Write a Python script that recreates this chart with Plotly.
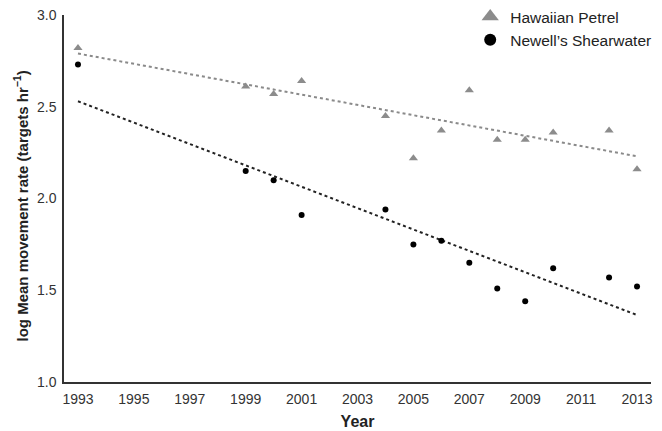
import plotly.graph_objects as go

years_hp = [1993, 1999, 2000, 2001, 2004, 2005, 2006, 2007, 2008, 2009, 2010, 2012, 2013]
hp_vals = [2.82, 2.61, 2.57, 2.64, 2.45, 2.22, 2.37, 2.59, 2.32, 2.32, 2.36, 2.37, 2.16]
years_ns = [1993, 1999, 2000, 2001, 2004, 2005, 2006, 2007, 2008, 2009, 2010, 2012, 2013]
ns_vals = [2.73, 2.15, 2.10, 1.91, 1.94, 1.75, 1.77, 1.65, 1.51, 1.44, 1.62, 1.57, 1.52]
trend_years = [1993, 2013]
hp_trend = [2.79, 2.23]
ns_trend = [2.53, 1.365]
x_ticks = [1993, 1995, 1997, 1999, 2001, 2003, 2005, 2007, 2009, 2011, 2013]
y_ticks = [1.0, 1.5, 2.0, 2.5, 3.0]
y_title = "<b>log Mean movement rate (targets hr<sup>−1</sup>)</b>"

FONT = "Arial, Liberation Sans, sans-serif"
fig = go.Figure()
fig.add_trace(go.Scatter(x=trend_years, y=hp_trend, mode="lines",
                         line=dict(color="#8a8a8a", width=2, dash="dot"),
                         showlegend=False, hoverinfo="skip"))
fig.add_trace(go.Scatter(x=trend_years, y=ns_trend, mode="lines",
                         line=dict(color="#222222", width=2, dash="dot"),
                         showlegend=False, hoverinfo="skip"))
fig.add_trace(go.Scatter(x=years_hp, y=hp_vals, mode="markers", name="Hawaiian Petrel",
                         marker=dict(symbol="triangle-up", size=8, color="#8c8c8c"),
                         showlegend=False))
fig.add_trace(go.Scatter(x=years_ns, y=ns_vals, mode="markers", name="Newell's Shearwater",
                         marker=dict(symbol="circle", size=6, color="#000000"),
                         showlegend=False))
# legend entries with larger symbols
fig.add_trace(go.Scatter(x=[None], y=[None], mode="markers", name="Hawaiian Petrel",
                         marker=dict(symbol="triangle-up", size=15, color="#8c8c8c")))
fig.add_trace(go.Scatter(x=[None], y=[None], mode="markers", name="Newell’s Shearwater",
                         marker=dict(symbol="circle", size=12, color="#000000")))

fig.add_annotation(text=y_title, textangle=-90, xref="paper", yref="paper",
                   x=0, y=0.5, xanchor="center", yanchor="middle", xshift=-43, yshift=-8,
                   showarrow=False, font=dict(size=15, color="#222222", family=FONT))

fig.update_layout(
    width=662, height=431,
    margin=dict(l=64, r=11, t=15, b=49, autoexpand=False),
    paper_bgcolor="white", plot_bgcolor="white",
    font=dict(family=FONT, size=14, color="#333333"),
    legend=dict(x=0.692, y=1.015, xref="paper", yref="container", xanchor="left", yanchor="top",
                font=dict(size=15.5, color="#222222"), tracegroupgap=0,
                itemwidth=30, bgcolor="rgba(0,0,0,0)"),
    xaxis=dict(range=[1992.5, 2013.5], tickvals=x_ticks, showgrid=False, zeroline=False,
               showline=True, linecolor="#333333", linewidth=1.5, ticks="",
               automargin=False, ticklabelstandoff=3,
               tickfont=dict(size=14, color="#333333"),
               title=dict(text="<b>Year</b>", font=dict(size=16, color="#222222"), standoff=10)),
    yaxis=dict(range=[1.0, 3.0], tickvals=y_ticks, tickformat=".1f", showgrid=False, zeroline=False,
               showline=True, linecolor="#333333", linewidth=1.5, ticks="",
               automargin=False, ticklabelstandoff=3,
               tickfont=dict(size=14, color="#333333")),
)
fig.write_html("out.html", config={"displayModeBar": False},
               post_script="document.body.style.margin='0';")
